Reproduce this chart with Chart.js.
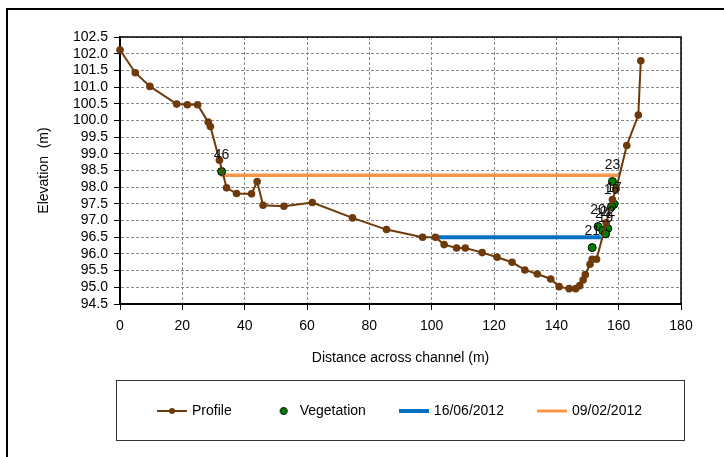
<!DOCTYPE html>
<html>
<head>
<meta charset="utf-8">
<script src="https://cdn.jsdelivr.net/npm/chart.js@4.4.1/dist/chart.umd.min.js"></script>
<style>
    html, body { margin: 0; padding: 0; background: #fff; }
    #wrap { position: relative; width: 724px; height: 457px; }
</style>
</head>
<body>
<div id="wrap"><canvas id="myChart"></canvas></div>
<script>
(() => {
    "use strict";

    // ground profile across the channel
    const profileX = [0, 4.9, 9.6, 18.2, 21.6, 24.9, 28.3, 29.0, 31.9, 34.2, 37.4, 42.2, 44.0, 45.9,
        52.6, 61.7, 74.6, 85.5, 97.1, 101.2, 104.0, 108.0, 110.8, 116.2, 121.0, 125.8, 129.9, 133.9,
        138.2, 140.9, 144.1, 146.2, 147.5, 148.6, 149.3, 150.8, 151.5, 152.9, 156.0, 158.0, 159.2,
        162.6, 166.3, 167.1];
    const profileY = [102.11, 101.43, 101.02, 100.49, 100.47, 100.47, 99.95, 99.82, 98.81, 97.98,
        97.81, 97.80, 98.17, 97.46, 97.43, 97.54, 97.08, 96.73, 96.50, 96.50, 96.28, 96.18, 96.18,
        96.04, 95.90, 95.75, 95.52, 95.40, 95.25, 95.02, 94.96, 94.96, 95.05, 95.22, 95.38, 95.69,
        95.84, 95.84, 96.93, 97.63, 97.95, 99.25, 100.16, 101.79];

    // vegetation points and their numbers
    const vegX = [32.6, 158.0, 158.5, 157.7, 153.4, 156.5, 154.9, 155.8, 151.5];
    const vegY = [98.47, 98.17, 97.49, 97.42, 96.82, 96.76, 96.70, 96.60, 96.19];
    const vegLabels = ["46", "23", "17", "16", "20", "22", "24", "19", "21"];

    // water levels
    const juneX = [101.2, 154.3];
    const juneY = [96.5, 96.5];
    const febX = [32.3, 159.8];
    const febY = [98.36, 98.36];

    const seriesNames = ["Profile", "Vegetation", "16/06/2012", "09/02/2012"];
    const yMin = 94.5, yMax = 102.5, yStep = 0.5;
    const xMin = 0, xMax = 180, xStep = 20;

    const BROWN = "#6e3a0b";
    const GREEN = "#008000";
    const BLUE = "#0070c0";
    const ORANGE = "#f79646";
    const GRID = "#8a8a8a";

    const pts = (xs, ys) => xs.map((x, i) => ({ x, y: ys[i] }));

    // small legend symbols
    const symbol = (w, h, draw) => {
        const c = document.createElement("canvas");
        c.width = w;
        c.height = h;
        draw(c.getContext("2d"));
        return c;
    };
    const legendIcons = [
        symbol(30, 10, (g) => {
            g.strokeStyle = BROWN; g.lineWidth = 2;
            g.beginPath(); g.moveTo(0, 5); g.lineTo(30, 5); g.stroke();
            g.fillStyle = BROWN;
            g.beginPath(); g.arc(15, 5, 3, 0, Math.PI * 2); g.fill();
        }),
        symbol(30, 10, (g) => {
            g.fillStyle = GREEN; g.strokeStyle = "#000"; g.lineWidth = 1;
            g.beginPath(); g.arc(19, 5, 3.5, 0, Math.PI * 2); g.fill(); g.stroke();
        }),
        symbol(30, 6, (g) => {
            g.strokeStyle = BLUE; g.lineWidth = 4;
            g.beginPath(); g.moveTo(0, 3); g.lineTo(30, 3); g.stroke();
        }),
        symbol(30, 6, (g) => {
            g.strokeStyle = ORANGE; g.lineWidth = 3;
            g.beginPath(); g.moveTo(0, 3); g.lineTo(30, 3); g.stroke();
        }),
    ];

    const frames = {
        id: "frames",
        beforeDraw(chart) {
            const { ctx, width, height } = chart;
            ctx.save();
            ctx.fillStyle = "#fff";
            ctx.fillRect(0, 0, width, height);
            ctx.strokeStyle = "#000";
            ctx.lineWidth = 2;
            ctx.beginPath();
            ctx.moveTo(7, height);
            ctx.lineTo(7, 9);
            ctx.lineTo(width, 9);
            ctx.stroke();
            ctx.restore();
        },
        beforeDatasetsDraw(chart) {
            const { ctx, chartArea: a } = chart;
            ctx.save();
            ctx.strokeStyle = "#000";
            ctx.lineWidth = 1.5;
            ctx.strokeRect(a.left, a.top, a.right - a.left, a.bottom - a.top);
            ctx.restore();
        },
        afterDraw(chart) {
            const { ctx, chartArea: a, legend } = chart;
            ctx.save();
            ctx.strokeStyle = "#333";
            ctx.lineWidth = 1;
            ctx.strokeRect(a.left - 3.5, Math.round(legend.top) + 11.5, a.right - a.left + 7, 60);
            ctx.restore();
        },
    };

    const pointLabels = {
        id: "pointLabels",
        afterDatasetsDraw(chart) {
            const { ctx } = chart;
            const meta = chart.getDatasetMeta(1);
            ctx.save();
            ctx.font = "14px 'Liberation Sans', Arial, sans-serif";
            ctx.fillStyle = "#111";
            ctx.textAlign = "center";
            ctx.textBaseline = "middle";
            meta.data.forEach((el, i) => {
                if (vegLabels[i]) ctx.fillText(vegLabels[i], el.x, el.y - 16);
            });
            ctx.restore();
        },
    };

    Chart.defaults.font.family = "'Liberation Sans', Arial, sans-serif";
    Chart.defaults.font.size = 14;
    Chart.defaults.color = "#000";

    const gridOpts = {
        display: true,
        drawOnChartArea: true,
        color: GRID,
        lineWidth: 1,
        borderDash: [3, 2],
        tickLength: 6,
        tickColor: "#000",
        tickWidth: 1,
        tickBorderDash: [],
    };

    const canvas = document.getElementById("myChart");
    new Chart(canvas, {
        type: "scatter",
        data: {
            datasets: [
                {
                    label: seriesNames[0],
                    data: pts(profileX, profileY),
                    showLine: true,
                    borderColor: BROWN,
                    borderWidth: 2,
                    backgroundColor: BROWN,
                    pointRadius: 3.8,
                    pointBorderWidth: 0,
                    clip: 10,
                },
                {
                    label: seriesNames[1],
                    data: pts(vegX, vegY),
                    backgroundColor: GREEN,
                    borderColor: "#000",
                    pointRadius: 4,
                    pointBorderWidth: 1,
                },
                {
                    label: seriesNames[2],
                    data: pts(juneX, juneY),
                    showLine: true,
                    borderColor: BLUE,
                    borderWidth: 4,
                    pointRadius: 0,
                },
                {
                    label: seriesNames[3],
                    data: pts(febX, febY),
                    showLine: true,
                    borderColor: ORANGE,
                    borderWidth: 3.5,
                    pointRadius: 0,
                },
            ],
        },
        options: {
            responsive: true,
            maintainAspectRatio: false,
            animation: false,
            devicePixelRatio: 1,
            layout: { padding: { left: 30, right: 43, top: 37, bottom: 29 } },
            scales: {
                x: {
                    type: "linear",
                    min: xMin,
                    max: xMax,
                    ticks: { stepSize: xStep, autoSkip: false, padding: 8, color: "#000", font: { size: 14 } },
                    grid: gridOpts,
                    border: { display: true, color: "#000", width: 2, dash: [3, 2] },
                    title: {
                        display: true,
                        text: "Distance across channel (m)",
                        color: "#000",
                        font: { size: 14 },
                        padding: { top: 0, bottom: 2 },
                    },
                    afterFit(scale) { scale.height = 65; },
                },
                y: {
                    type: "linear",
                    min: yMin,
                    max: yMax,
                    ticks: {
                        stepSize: yStep,
                        autoSkip: false,
                        padding: 6,
                        color: "#000",
                        font: { size: 14 },
                        callback: (v) => v.toFixed(1),
                    },
                    grid: gridOpts,
                    border: { display: true, color: "#000", width: 2, dash: [3, 2] },
                    title: {
                        display: true,
                        text: "Elevation  (m)",
                        color: "#000",
                        font: { size: 14 },
                        padding: { top: 6, bottom: 0 },
                    },
                    afterFit(scale) { scale.width = 90; },
                },
            },
            plugins: {
                tooltip: { enabled: false },
                legend: {
                    position: "bottom",
                    fullSize: false,
                    labels: {
                        usePointStyle: true,
                        pointStyleWidth: 26,
                        padding: 35,
                        color: "#000",
                        font: { size: 14 },
                        generateLabels(chart) {
                            const items = Chart.defaults.plugins.legend.labels.generateLabels(chart);
                            items.forEach((item, i) => { item.pointStyle = legendIcons[i]; });
                            return items;
                        },
                    },
                },
            },
        },
        plugins: [frames, pointLabels],
    });
})();
</script>
</body>
</html>
